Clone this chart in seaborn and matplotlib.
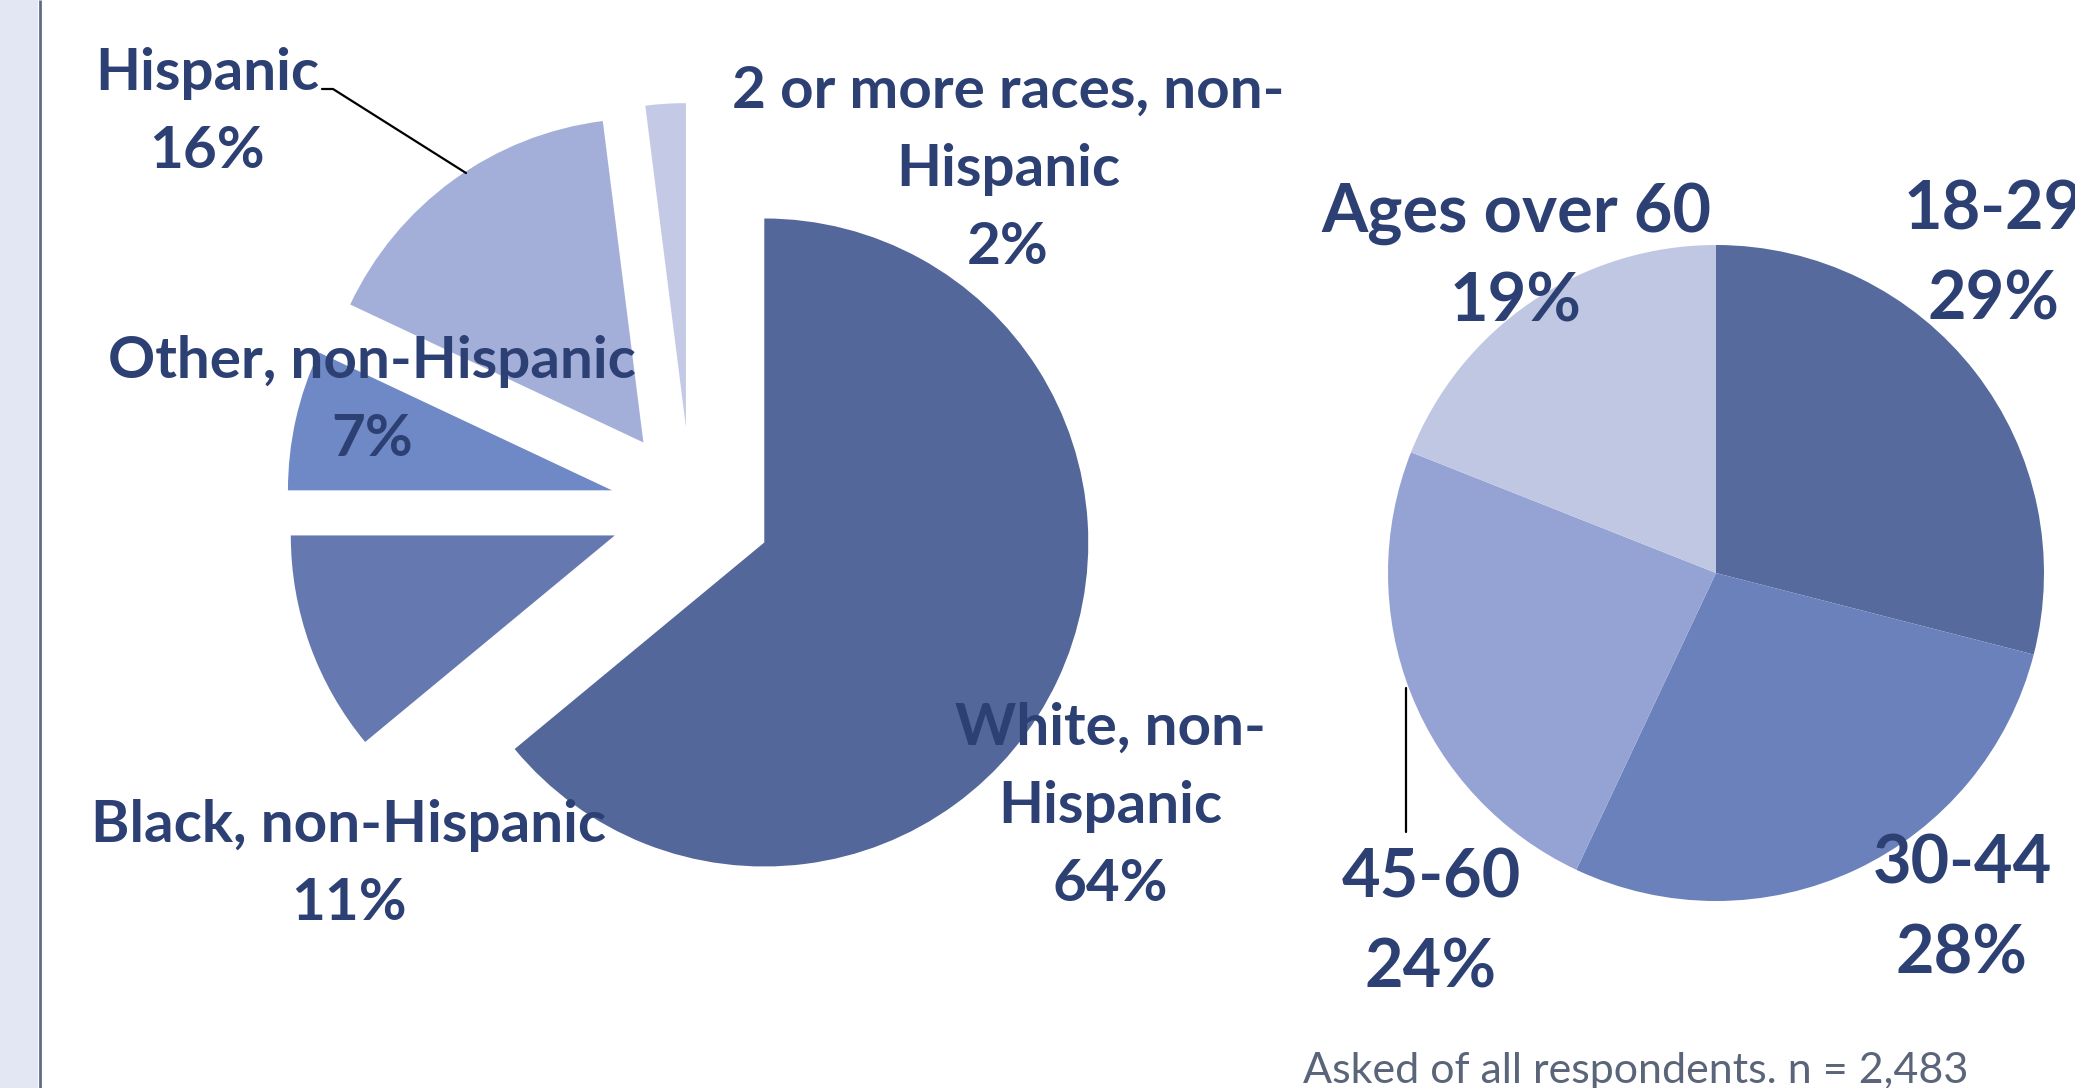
import matplotlib
matplotlib.use("Agg")
import matplotlib.pyplot as plt
import seaborn as sns

# Race / ethnicity breakdown (clockwise from 12 o'clock)
race_labels = ["White, non-\nHispanic", "Black, non-Hispanic", "Other, non-Hispanic",
               "Hispanic", "2 or more races, non-\nHispanic"]
race_values = [64, 11, 7, 16, 2]
race_colors = ["#54679A", "#6578B0", "#6F89C6", "#A3AFD9", "#C4CAE5"]

# Age breakdown (clockwise from 12 o'clock)
age_labels = ["18-29", "30-44", "45-60", "Ages over 60"]
age_values = [29, 28, 24, 19]
age_colors = ["#576A9D", "#6B81BC", "#94A3D3", "#BFC7E3"]

footnote = "Asked of all respondents. n = 2,483"

sns.set_theme(style="white")
plt.rcParams["font.family"] = ["Lato", "DejaVu Sans"]

W, H = 2075, 1088
fig = plt.figure(figsize=(W / 100, H / 100), dpi=100)
ax = fig.add_axes([0, 0, 1, 1])

TXT = "#2D4073"


def py(y):
    """Convert a top-down pixel row into data y."""
    return H - y


# Left pie: every slice pulled out from the centre by a quarter radius
r_left = 324
ax.pie(race_values, colors=race_colors, startangle=90, counterclock=False,
       center=(691, py(508)), radius=r_left,
       explode=[0.25 * r_left] * len(race_values),
       wedgeprops=dict(linewidth=0))

# Right pie
r_right = 328
ax.pie(age_values, colors=age_colors, startangle=90, counterclock=False,
       center=(1716, py(573)), radius=r_right,
       wedgeprops=dict(linewidth=0))

ax.set_xlim(0, W)
ax.set_ylim(0, H)
ax.set_aspect("auto")
ax.axis("off")

# Left margin band
fig.patches.append(plt.Rectangle((0, 0), 38 / W, 1, transform=fig.transFigure,
                                 facecolor="#E3E7F3", edgecolor="none", zorder=0))
ax.plot([39.5, 39.5], [0, H], color="#5E6C88", lw=2, solid_capstyle="butt")


def label(x, y0, step, name, value, size):
    lines = name.split("\n") + [f"{value}%"]
    for i, line in enumerate(lines):
        ax.text(x, py(y0 + i * step), line, ha="center", va="baseline",
                fontsize=size, fontweight="bold", color=TXT, zorder=5)


# label anchors: (x centre, first baseline)
race_pos = [(1110, 745), (349, 842), (372, 378), (207, 90), (1008, 108)]
for (x, y), name, v in zip(race_pos, race_labels, race_values):
    label(x, y, 78, name, v, 42)

age_pos = [(1993, 229), (1962, 883), (1431, 897), (1516, 232)]
for (x, y), name, v in zip(age_pos, age_labels, age_values):
    label(x, y, 90, name, v, 48)

# leader lines
ax.plot([322, 333, 466], [py(89), py(89), py(173)], color="black", lw=1.6)
ax.plot([1406, 1406], [py(688), py(832)], color="black", lw=1.6)

ax.text(1303, py(1083), footnote, ha="left", va="baseline", fontsize=31,
        color="#5B6579")

fig.savefig("out.png", dpi=100)
